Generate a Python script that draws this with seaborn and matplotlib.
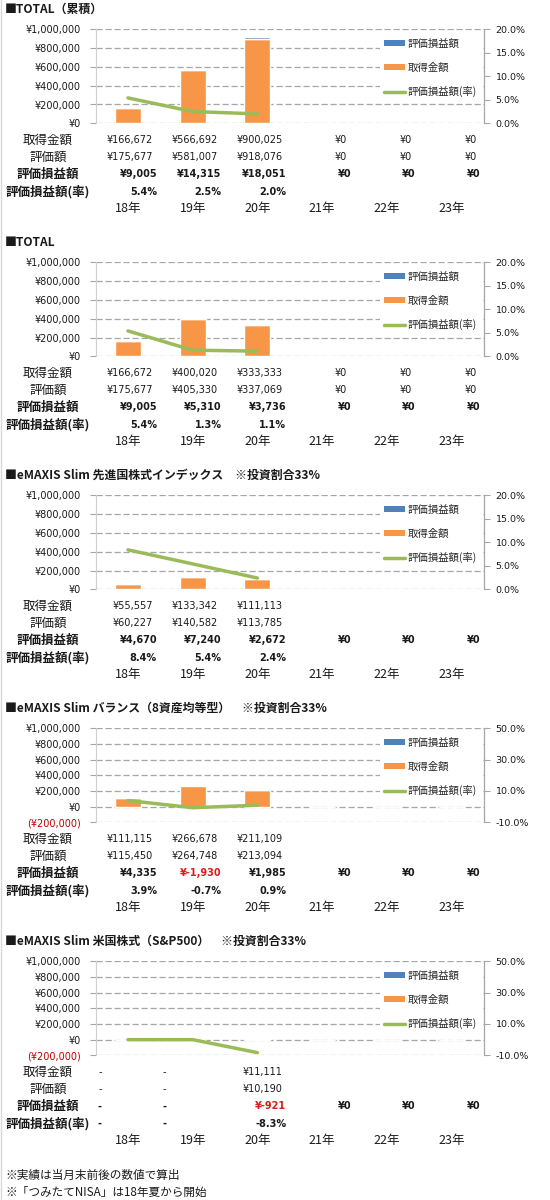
import numpy as np
import pandas as pd
import matplotlib
matplotlib.use('Agg')
import matplotlib.pyplot as plt
import seaborn as sns
from matplotlib.patches import Patch
from matplotlib.lines import Line2D

# ---------------- data ----------------
years = ['18年', '19年', '20年', '21年', '22年', '23年']
row_labels = ['取得金額', '評価額', '評価損益額', '評価損益額(率)']
legend_labels = ['評価損益額', '取得金額', '評価損益額(率)']
footnotes = ['※実績は当月末前後の数値で算出', '※「つみたてNISA」は18年夏から開始']

titles = [
    '■TOTAL（累積）',
    '■TOTAL',
    '■eMAXIS Slim 先進国株式インデックス　※投資割合33%',
    '■eMAXIS Slim バランス（8資産均等型）　※投資割合33%',
    '■eMAXIS Slim 米国株式（S&P500）　※投資割合33%',
]

p1_acq = [166672, 566692, 900025, 0, 0, 0]
p1_val = [175677, 581007, 918076, 0, 0, 0]
p1_gain = [9005, 14315, 18051, 0, 0, 0]
p1_rate = [5.4, 2.5, 2.0]

p2_acq = [166672, 400020, 333333, 0, 0, 0]
p2_val = [175677, 405330, 337069, 0, 0, 0]
p2_gain = [9005, 5310, 3736, 0, 0, 0]
p2_rate = [5.4, 1.3, 1.1]

p3_acq = [55557, 133342, 111113]
p3_val = [60227, 140582, 113785]
p3_gain = [4670, 7240, 2672, 0, 0, 0]
p3_rate = [8.4, 5.4, 2.4]

p4_acq = [111115, 266678, 211109]
p4_val = [115450, 264748, 213094]
p4_gain = [4335, -1930, 1985, 0, 0, 0]
p4_rate = [3.9, -0.7, 0.9]

p5_acq = [None, None, 11111]
p5_val = [None, None, 10190]
p5_gain = [None, None, -921, 0, 0, 0]
p5_rate = [None, None, -8.3]

left_ticks_pos = [0, 200000, 400000, 600000, 800000, 1000000]
left_ticks_neg = [-200000, 0, 200000, 400000, 600000, 800000, 1000000]
right_ticks_pos = [0, 5, 10, 15, 20]
right_ticks_neg = [-10, 10, 30, 50]

panels = [
    (titles[0], p1_acq, p1_val, p1_gain, p1_rate, left_ticks_pos, right_ticks_pos),
    (titles[1], p2_acq, p2_val, p2_gain, p2_rate, left_ticks_pos, right_ticks_pos),
    (titles[2], p3_acq, p3_val, p3_gain, p3_rate, left_ticks_pos, right_ticks_pos),
    (titles[3], p4_acq, p4_val, p4_gain, p4_rate, left_ticks_neg, right_ticks_neg),
    (titles[4], p5_acq, p5_val, p5_gain, p5_rate, left_ticks_neg, right_ticks_neg),
]

# ---------------- style ----------------
ORANGE = '#F79646'
BLUE = '#4F81BD'
GREEN = '#9BBB59'
GRID = '#A6A6A6'
RED_TICK = '#C00000'
RED_VAL = '#E01B1B'
TXT = '#1a1a1a'

sns.set_theme(style='white')
JP = ['Noto Sans CJK JP', 'DejaVu Sans']
NUM = ['DejaVu Sans']
plt.rcParams['font.family'] = JP

W, H, DPI = 550, 1200, 100
fig = plt.figure(figsize=(W / DPI, H / DPI), dpi=DPI)
fig.patch.set_facecolor('white')

AX_L, AX_R = 95.6, 484.0
TOP0, STEP, AX_H = 29.3, 233.0, 94.0
ROW_OFF = [111, 128, 145, 162.5]
YEAR_OFF = 179
TITLE_OFF = -19.7


def fy(ypx):
    return 1 - ypx / H


def yen(v):
    if v < 0:
        return '¥-{:,}'.format(-v)
    return '¥{:,}'.format(v)


def put(ax, i, ypx, s, dx_px, ha, bold=False, color=TXT, size=7.0, family=NUM):
    ax.annotate(s, xy=(i, fy(ypx)), xycoords=(ax.transData, fig.transFigure),
                xytext=(dx_px * 72 / DPI, 0), textcoords='offset points',
                ha=ha, va='center', fontsize=size,
                fontweight='bold' if bold else 'normal', color=color,
                family=family, annotation_clip=False)


for k, (title, acq, val, gain, rate, lticks, rticks) in enumerate(panels):
    top = TOP0 + STEP * k
    ax = fig.add_axes([AX_L / W, fy(top + AX_H), (AX_R - AX_L) / W, AX_H / H])
    ax.set_facecolor('none')

    n = len(years)
    acq6 = [(a or 0) for a in acq] + [0] * (n - len(acq))
    gain6 = [(g or 0) for g in gain]
    bottoms = [a if g >= 0 else 0 for a, g in zip(acq6, gain6)]

    df = pd.DataFrame({'year': years, 'acq': acq6})
    sns.barplot(data=df, x='year', y='acq', order=years, color=ORANGE,
                saturation=1, width=0.4, ax=ax, zorder=2)
    ax.bar(np.arange(n), gain6, bottom=bottoms, width=0.4, color=BLUE, zorder=3)

    ax.set_ylim(lticks[0], lticks[-1])
    ax.set_yticks(lticks)
    labs = ax.set_yticklabels([('(¥{:,})'.format(-t) if t < 0 else '¥{:,}'.format(t)) for t in lticks],
                              family=NUM, fontsize=7)
    for t, lab in zip(lticks, labs):
        lab.set_color(RED_TICK if t < 0 else TXT)
    ax.yaxis.grid(True, linestyle=(0, (5, 2.2)), color=GRID, linewidth=0.9)
    ax.set_axisbelow(True)
    ax.set_xlabel('')
    ax.set_ylabel('')
    ax.tick_params(axis='x', bottom=False, labelbottom=False)
    ax.tick_params(axis='y', left=True, direction='out', length=4, width=0.8,
                   color=GRID, pad=6.5)
    for s in ['top', 'right', 'bottom']:
        ax.spines[s].set_visible(False)
    ax.spines['left'].set_color('#D0D0D0')
    ax.spines['left'].set_linewidth(0.8)

    ax2 = ax.twinx()
    rate_line = [(r or 0) for r in rate]
    sns.lineplot(x=np.arange(len(rate_line)), y=rate_line, ax=ax2, color=GREEN,
                 linewidth=2.5, zorder=4)
    ax2.set_ylim(rticks[0], rticks[-1])
    ax2.set_yticks(rticks)
    ax2.set_yticklabels(['{:.1f}%'.format(t) for t in rticks], family=NUM, fontsize=6.8,
                        color=TXT)
    ax2.set_ylabel('')
    ax2.tick_params(axis='y', right=True, direction='out', length=4, width=0.8,
                    color=GRID, pad=4.3)
    for s in ['top', 'left', 'bottom']:
        ax2.spines[s].set_visible(False)
    ax2.spines['right'].set_color(GRID)
    ax2.spines['right'].set_linewidth(0.9)
    ax2.spines['right'].set_zorder(6)
    ax.set_xlim(-0.5, n - 0.5)

    handles = [Patch(facecolor=BLUE, edgecolor='none'),
               Patch(facecolor=ORANGE, edgecolor='none'),
               Line2D([], [], color=GREEN, lw=2.5)]
    ax2.legend(handles, legend_labels, loc='upper left', bbox_to_anchor=(0.732, 0.94),
               frameon=True, facecolor='white', edgecolor='none', framealpha=1,
               fancybox=False, prop={'family': JP, 'size': 7.5},
               handlelength=2.1, handleheight=0.55, handletextpad=0.25,
               labelspacing=1.3, borderpad=0.35, borderaxespad=0)

    # title
    fig.text(5 / W, fy(top + TITLE_OFF), title, ha='left', va='center',
             fontsize=8.6, fontweight='bold', family=JP, color=TXT)

    # table row labels
    for r, lab in enumerate(row_labels):
        fig.text(48 / W, fy(top + ROW_OFF[r]), lab, ha='center', va='center',
                 fontsize=9, fontweight='bold' if r >= 2 else 'normal',
                 family=JP, color=TXT)

    # table values
    rows = [(acq, False), (val, False)]
    for r, (vals, bold) in enumerate(rows):
        for i, v in enumerate(vals):
            if v is None:
                put(ax, i, top + ROW_OFF[r], '-', -28, 'center')
            else:
                put(ax, i, top + ROW_OFF[r], yen(v), 25, 'right')
    for i, g in enumerate(gain):
        if g is None:
            put(ax, i, top + ROW_OFF[2], '-', -28, 'center', bold=True)
        else:
            put(ax, i, top + ROW_OFF[2], yen(g), 29, 'right', bold=True,
                color=RED_VAL if g < 0 else TXT)
    for i, rv in enumerate(rate):
        if rv is None:
            put(ax, i, top + ROW_OFF[3], '-', -28, 'center', bold=True)
        else:
            put(ax, i, top + ROW_OFF[3], '{:.1f}%'.format(rv), 29, 'right', bold=True)
    for i, yl in enumerate(years):
        put(ax, i, top + YEAR_OFF, yl, 0, 'center', size=9, family=JP)

for j, note in enumerate(footnotes):
    fig.text(5 / W, fy(1175 + 17 * j), note, ha='left', va='center', fontsize=8.4,
             family=JP, color=TXT)

fig.add_artist(Line2D([0.5 / W, 0.5 / W], [0, 1], color='#D8D8D8', lw=1,
                      transform=fig.transFigure))

fig.savefig('out.png', dpi=DPI, facecolor='white')
